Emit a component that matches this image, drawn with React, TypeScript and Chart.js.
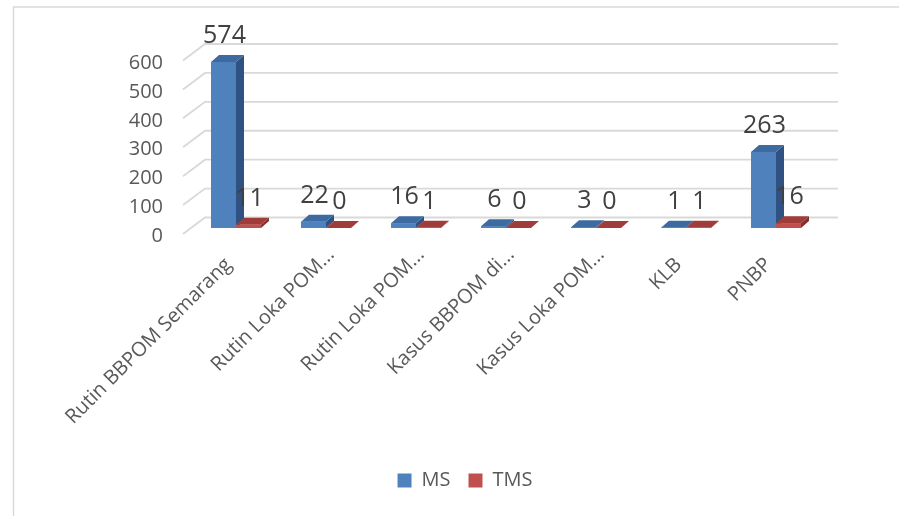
import React, { useEffect, useRef } from "react";
import { Chart, registerables } from "chart.js";

Chart.register(...registerables);

// ---------- data ----------
const categories = [
  "Rutin BBPOM Semarang",
  "Rutin Loka POM...",
  "Rutin Loka POM...",
  "Kasus BBPOM di...",
  "Kasus Loka POM...",
  "KLB",
  "PNBP",
];
const seriesNames = ["MS", "TMS"];
const msValues = [574, 22, 16, 6, 3, 1, 263];
const tmsValues = [11, 0, 1, 0, 0, 1, 16];
const yTickValues = [0, 100, 200, 300, 400, 500, 600];

// ---------- styles ----------
const FONT = "'Open Sans', 'Noto Sans', sans-serif";
const TEXT = "#595959";
const LABEL = "#404040";
const GRID = "#d9d9d9";
const frontColors = ["#4F81BD", "#C0504D"];
const topColors = ["#3E6AA2", "#A03D3A"];
const sideColors = ["#2F5282", "#832F2D"];

const DEPTH_DX = 8;
const DEPTH_DY = -7;

const threeD = {
  id: "threeD",
  beforeDraw(chart: any) {
    const { ctx } = chart;
    ctx.save();
    ctx.fillStyle = "#ffffff";
    ctx.fillRect(0, 0, chart.width, chart.height);
    ctx.strokeStyle = GRID;
    ctx.lineWidth = 1.5;
    ctx.strokeRect(13.5, 7, chart.width + 20, chart.height + 20);
    ctx.restore();
  },
  beforeDatasetsDraw(chart: any) {
    const { ctx, chartArea } = chart;
    const y = chart.scales.y;
    ctx.save();
    ctx.strokeStyle = GRID;
    ctx.lineWidth = 1.8;
    for (const v of yTickValues) {
      const py = y.getPixelForValue(v);
      ctx.beginPath();
      ctx.moveTo(chartArea.left - 8, py + 6);
      ctx.lineTo(chartArea.left + 14, py - 10.5);
      ctx.lineTo(chartArea.right + 17, py - 10.5);
      ctx.stroke();
    }
    ctx.restore();
  },
  afterDatasetsDraw(chart: any) {
    const { ctx } = chart;
    ctx.save();
    const n = chart.data.labels.length;
    for (let i = 0; i < n; i++) {
      for (let d = 0; d < chart.data.datasets.length; d++) {
        const bar: any = chart.getDatasetMeta(d).data[i];
        const { x, y, base, width } = bar.getProps(["x", "y", "base", "width"], true);
        const l = x - width / 2;
        const r = x + width / 2;
        // side
        ctx.fillStyle = sideColors[d];
        ctx.beginPath();
        ctx.moveTo(r, y);
        ctx.lineTo(r + DEPTH_DX, y + DEPTH_DY);
        ctx.lineTo(r + DEPTH_DX, base + DEPTH_DY);
        ctx.lineTo(r, base);
        ctx.closePath();
        ctx.fill();
        // top
        ctx.fillStyle = topColors[d];
        ctx.beginPath();
        ctx.moveTo(l, y);
        ctx.lineTo(l + DEPTH_DX, y + DEPTH_DY);
        ctx.lineTo(r + DEPTH_DX, y + DEPTH_DY);
        ctx.lineTo(r, y);
        ctx.closePath();
        ctx.fill();
        // front
        ctx.fillStyle = frontColors[d];
        ctx.fillRect(l, y, width, base - y);
      }
    }
    // value labels
    ctx.fillStyle = LABEL;
    ctx.font = `25px ${FONT}`;
    ctx.textAlign = "center";
    ctx.textBaseline = "alphabetic";
    for (let d = 0; d < chart.data.datasets.length; d++) {
      const meta = chart.getDatasetMeta(d);
      meta.data.forEach((bar: any, i: number) => {
        const { x, y } = bar.getProps(["x", "y"], true);
        ctx.fillText(String(chart.data.datasets[d].data[i]), x + 1, y - 19);
      });
    }
    ctx.restore();
  },
  afterDraw(chart: any) {
    // rotated category labels, positioned from the x scale
    const { ctx, chartArea } = chart;
    const xs = chart.scales.x;
    ctx.save();
    ctx.fillStyle = TEXT;
    ctx.font = `20px ${FONT}`;
    ctx.textAlign = "right";
    ctx.textBaseline = "middle";
    const labels: string[] = chart.data.labels;
    labels.forEach((lab, i) => {
      const px = xs.getPixelForValue(i);
      const truncated = lab.endsWith("...");
      ctx.save();
      ctx.translate(px - 16, chartArea.bottom + 25);
      ctx.rotate(-Math.PI / 4);
      ctx.fillText(lab, truncated ? 16 : 0, truncated ? 14 : 12);
      ctx.restore();
    });
    ctx.restore();
  },
};

export default function App() {
  const ref = useRef<HTMLCanvasElement | null>(null);
  useEffect(() => {
    if (!ref.current) return;
    const chart = new Chart(ref.current, {
      type: "bar",
      data: {
        labels: categories,
        datasets: [
          {
            label: seriesNames[0],
            data: msValues,
            backgroundColor: frontColors[0],
            categoryPercentage: 50 / 90,
            barPercentage: 1,
          },
          {
            label: seriesNames[1],
            data: tmsValues,
            backgroundColor: frontColors[1],
            categoryPercentage: 50 / 90,
            barPercentage: 1,
          },
        ],
      },
      options: {
        responsive: false,
        animation: false,
        layout: { padding: { left: 0, right: 0, top: 54.5, bottom: 15.5 } },
        plugins: {
          legend: {
            position: "bottom",
            labels: {
              boxWidth: 14,
              boxHeight: 14,
              padding: 18,
              color: TEXT,
              font: { family: FONT, size: 20 },
            },
          },
          tooltip: { enabled: false },
        },
        scales: {
          x: {
            grid: { display: false, drawTicks: false },
            border: { display: false },
            ticks: { display: false, autoSkip: false },
            afterFit: (s: any) => {
              s.height = 224.5;
            },
          },
          y: {
            min: 0,
            max: 600,
            grid: { display: false, drawTicks: false },
            border: { display: false },
            ticks: {
              stepSize: 100,
              padding: 28,
              labelOffset: 8.5,
              color: TEXT,
              font: { family: FONT, size: 20 },
            },
            afterFit: (s: any) => {
              s.width = 191;
            },
          },
          yRight: {
            position: "right",
            display: true,
            grid: { display: false, drawTicks: false },
            border: { display: false },
            ticks: { display: false },
            afterFit: (s: any) => {
              s.width = 109;
            },
          },
        },
      },
      plugins: [threeD],
    });
    return () => chart.destroy();
  }, []);
  return (
    <div
      style={{
        position: "fixed",
        left: 0,
        top: 0,
        width: 899,
        height: 516,
        overflow: "hidden",
        background: "#fff",
      }}
    >
      <canvas ref={ref} width={930} height={516} style={{ width: 930, height: 516, display: "block" }} />
    </div>
  );
}
